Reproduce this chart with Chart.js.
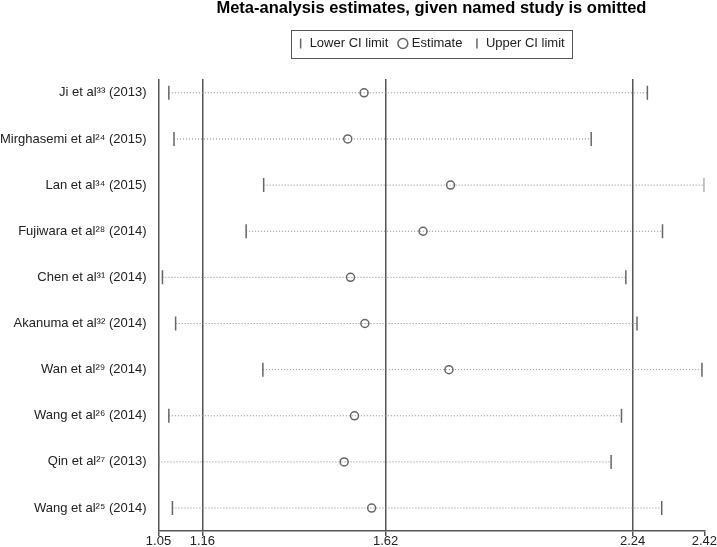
<!DOCTYPE html>
<html>
<head>
<meta charset="utf-8">
<script src="https://cdn.jsdelivr.net/npm/chart.js@4"></script>
<style>
  html, body { margin: 0; padding: 0; background: #fff; }
  #wrap { width: 717px; height: 547px; }
</style>
</head>
<body>
<div id="wrap"><canvas id="chart"></canvas></div>
<script>
// study omitted in each row, top to bottom
const studies = [
    'Ji et al³³ (2013)',
    'Mirghasemi et al²⁴ (2015)',
    'Lan et al³⁴ (2015)',
    'Fujiwara et al²⁸ (2014)',
    'Chen et al³¹ (2014)',
    'Akanuma et al³² (2014)',
    'Wan et al²⁹ (2014)',
    'Wang et al²⁶ (2014)',
    'Qin et al²⁷ (2013)',
    'Wang et al²⁵ (2014)'
];
const lowerCI  = [1.076, 1.089, 1.314, 1.270, 1.060, 1.093, 1.312, 1.076, 1.050, 1.085];
const estimate = [1.566, 1.525, 1.783, 1.714, 1.532, 1.568, 1.779, 1.542, 1.516, 1.585];
const upperCI  = [2.277, 2.136, 2.420, 2.315, 2.223, 2.251, 2.414, 2.212, 2.186, 2.313];
const tickValues = [1.05, 1.16, 1.62, 2.24, 2.42];

const FONT = 'Liberation Sans, Arial, sans-serif';
const MARK = '#666';

// Draws the frame around the legend items
const legendFrame = {
    id: 'legendFrame',
    afterDraw(chart) {
        const boxes = chart.legend && chart.legend.legendHitBoxes;
        if (!boxes || !boxes.length) return;
        const left = Math.min(...boxes.map(b => b.left)) - 7;
        const right = Math.max(...boxes.map(b => b.left + b.width)) + 7;
        const top = Math.min(...boxes.map(b => b.top)) - 7;
        const bottom = Math.max(...boxes.map(b => b.top + b.height)) + 8;
        const ctx = chart.ctx;
        ctx.save();
        ctx.strokeStyle = '#555';
        ctx.lineWidth = 1;
        ctx.strokeRect(Math.round(left) + 0.5, Math.round(top) + 0.5,
            Math.round(right - left), Math.round(bottom - top));
        ctx.restore();
    }
};

const point = (x, i) => ({ x: x, y: i });

// dotted span from lower to upper limit, one per study
const spans = studies.map((s, i) => ({
    label: 'span' + i,
    data: [point(lowerCI[i], i), point(upperCI[i], i)],
    showLine: true,
    borderColor: '#888',
    borderWidth: 1,
    borderDash: [1, 2],
    pointRadius: 0,
    pointHoverRadius: 0
}));

const ctx = document.getElementById('chart').getContext('2d');
new Chart(ctx, {
    type: 'scatter',
    data: {
        datasets: [
            {
                label: 'Lower CI limit',
                data: lowerCI.map(point),
                pointStyle: 'line',
                rotation: 90,
                radius: 7,
                borderColor: MARK,
                backgroundColor: MARK,
                borderWidth: 1.5
            },
            {
                label: 'Estimate',
                data: estimate.map(point),
                pointStyle: 'circle',
                radius: 4,
                borderColor: MARK,
                backgroundColor: 'rgba(0,0,0,0)',
                borderWidth: 1.5
            },
            {
                label: 'Upper CI limit',
                data: upperCI.map(point),
                pointStyle: 'line',
                rotation: 90,
                radius: 7,
                borderColor: MARK,
                backgroundColor: MARK,
                borderWidth: 1.5
            },
            ...spans
        ]
    },
    options: {
        responsive: true,
        maintainAspectRatio: false,
        animation: false,
        layout: { padding: { left: -12, right: 0, top: 0, bottom: 0 } },
        plugins: {
            title: {
                display: true,
                text: 'Meta-analysis estimates, given named study is omitted',
                fullSize: false,
                color: '#000',
                font: { family: FONT, size: 16.5, weight: 'bold', lineHeight: 1 },
                padding: { top: 0, bottom: 8.5 }
            },
            // empty subtitle used as the gap between legend and plot
            subtitle: {
                display: true,
                text: '',
                weight: 500,
                fullSize: false,
                font: { size: 19, lineHeight: 1 },
                padding: 0
            },
            legend: {
                display: true,
                position: 'top',
                fullSize: false,
                labels: {
                    filter: item => item.datasetIndex < 3,
                    usePointStyle: true,
                    boxWidth: 5,
                    boxHeight: 7,
                    padding: 12,
                    color: '#222',
                    font: { family: FONT, size: 13 }
                }
            },
            tooltip: { enabled: false }
        },
        scales: {
            x: {
                type: 'linear',
                min: 1.05,
                max: 2.42,
                afterBuildTicks: scale => {
                    scale.ticks = tickValues.map(v => ({ value: v }));
                },
                ticks: {
                    autoSkip: false,
                    maxRotation: 0,
                    padding: 0,
                    color: '#222',
                    font: { family: FONT, size: 13, lineHeight: 0.75 },
                    callback: value => value.toFixed(2)
                },
                grid: {
                    color: c => (c.tick && c.tick.value === 2.42) ? 'rgba(0,0,0,0)' : '#555',
                    tickColor: '#555',
                    lineWidth: 1.5,
                    tickLength: 5
                },
                border: { display: true, color: '#555', width: 1.5 }
            },
            y: {
                type: 'linear',
                reverse: true,
                min: -0.3,
                max: 9.5,
                afterBuildTicks: scale => {
                    scale.ticks = studies.map((s, i) => ({ value: i }));
                },
                grid: { display: false, drawTicks: false },
                border: { display: false },
                ticks: {
                    autoSkip: false,
                    padding: 12,
                    color: '#222',
                    font: { family: FONT, size: 13, lineHeight: 0.6 },
                    callback: value => studies[value]
                }
            }
        }
    },
    plugins: [legendFrame]
});
</script>
</body>
</html>
